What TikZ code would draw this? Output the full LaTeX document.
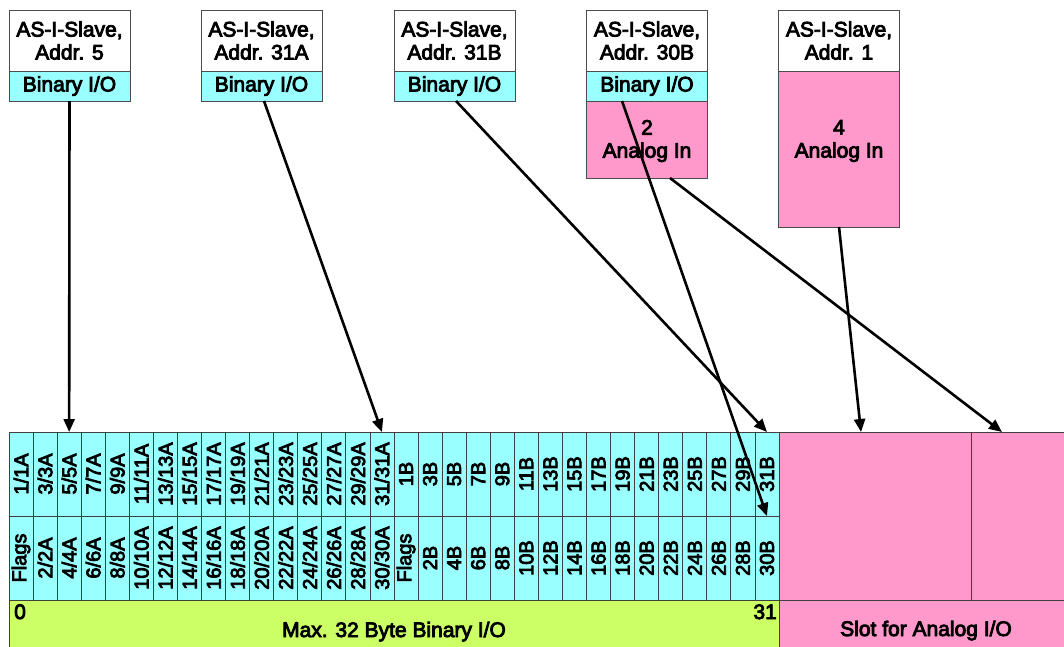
\documentclass[tikz,border=0pt]{standalone}
\usepackage{fontspec}
\setmainfont{Liberation Sans}[RawFeature={embolden=4}]
\usetikzlibrary{arrows.meta}
\definecolor{cy}{RGB}{153,255,255}
\definecolor{pk}{RGB}{255,153,204}
\definecolor{gr}{RGB}{204,255,102}
\begin{document}
\begin{tikzpicture}[x=1pt,y=-1pt,font=\fontsize{21}{23}\selectfont,
  cell/.style={draw=black!75,line width=0.8pt,fill=cy,minimum width=24.0625pt,minimum height=84pt,inner sep=0pt,outer sep=0pt},
  lab/.style={rotate=90,font=\fontsize{20}{22}\selectfont,inner sep=0pt},
  slave/.style={draw=black!70,line width=0.8pt,fill=white,minimum width=121pt,minimum height=61pt,inner sep=0pt,outer sep=0pt,align=center},
  binbox/.style={draw=black!70,line width=0.8pt,fill=cy,minimum width=121pt,minimum height=30pt,inner sep=0pt,outer sep=0pt},
  anabox/.style={draw=black!70,line width=0.8pt,fill=pk,minimum width=121pt,inner sep=0pt,outer sep=0pt},
  region/.style={draw=black!75,line width=0.8pt,inner sep=0pt,outer sep=0pt},
  txt/.style={inner sep=0pt,align=center},
  arr/.style={line width=2.6pt,-{Triangle[length=13pt,width=11pt]}}]
\useasboundingbox (0,0) rectangle (1064,646);
% slave boxes
\node[slave] (s1) at (69.5,40.5) {AS-I-Slave,\\Addr. 5};
\node[binbox] (bin1) at (69.5,86) {Binary I/O};
\node[slave] (s2) at (261.5,40.5) {AS-I-Slave,\\Addr. 31A};
\node[binbox] (bin2) at (261.5,86) {Binary I/O};
\node[slave] (s3) at (454.5,40.5) {AS-I-Slave,\\Addr. 31B};
\node[binbox] (bin3) at (454.5,86) {Binary I/O};
\node[slave] (s4) at (647,40.5) {AS-I-Slave,\\Addr. 30B};
\node[binbox] (bin4) at (647,86) {Binary I/O};
\node[anabox,minimum height=77pt] (an4) at (647,139.5) {};
\node[txt] (an4t) at (647,141) {2\\Analog In};
\node[slave] (s5) at (839,40.5) {AS-I-Slave,\\Addr. 1};
\node[anabox,minimum height=156pt] (an5) at (839,149) {};
\node[txt] (an5t) at (839,141) {4\\Analog In};
% bottom bars
\node[region,fill=gr,minimum width=770pt,minimum height=60pt] (green) at (394,630) {};
\node[region,fill=pk,minimum width=300pt,minimum height=60pt] (slot) at (929,630) {};
\node[region,fill=pk,minimum width=192pt,minimum height=168pt] (p1) at (875,516) {};
\node[region,fill=pk,minimum width=110pt,minimum height=168pt] (p2) at (1026,516) {};
% cells
\foreach \i in {1,...,32} {
  \pgfmathsetmacro\cx{9+(\i-0.5)*24.0625}
  \node[cell] (t\i) at (\cx,474) {};
  \node[cell] (b\i) at (\cx,558) {};
}
\foreach \i in {1,...,16} {
  \pgfmathtruncatemacro\nn{2*\i-1}
  \node[lab] (tl\i) at (t\i) {\nn/\nn A};
}
\foreach \i in {17,...,32} {
  \pgfmathtruncatemacro\nn{2*(\i-16)-1}
  \node[lab] (tl\i) at (t\i) {\nn B};
}
\node[lab] (bl1) at (b1) {Flags};
\foreach \i in {2,...,16} {
  \pgfmathtruncatemacro\nn{2*(\i-1)}
  \node[lab] (bl\i) at (b\i) {\nn/\nn A};
}
\node[lab] (bl17) at (b17) {Flags};
\foreach \i in {18,...,32} {
  \pgfmathtruncatemacro\nn{2*(\i-17)}
  \node[lab] (bl\i) at (b\i) {\nn B};
}
% bar texts
\node[txt,anchor=base west] (zero) at (14,619) {0};
\node[txt,anchor=base east] (tone) at (777,619) {31};
\node[txt,anchor=base] (maxt) at (394,637) {Max. 32 Byte Binary I/O};
\node[txt,anchor=base] (slott) at (926,636) {Slot for Analog I/O};
% arrows
\draw[arr] (bin1.south) -- (t3.north);
\draw[arr] ([xshift=2.5pt]bin2.south) -- (t16.north);
\draw[arr] ([xshift=1.5pt]bin3.south) -- (t32.north);
\draw[arr] ([xshift=-25pt]bin4.south) -- (b32.north);
\draw[arr] ([xshift=23pt]an4.south) -- ([xshift=-24pt]p2.north);
\draw[arr] (an5.south) -- ([xshift=-14pt]p1.north);
\end{tikzpicture}
\end{document}
